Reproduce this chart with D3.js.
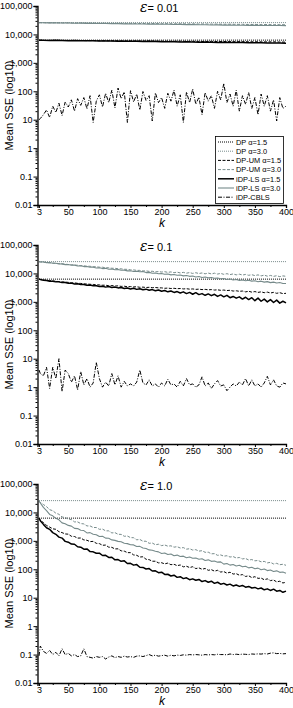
<!DOCTYPE html>
<html>
<head>
<meta charset="utf-8">
<script src="https://cdn.jsdelivr.net/npm/d3@7"></script>
<style>
  body { margin: 0; background: #fff; }
  text { font-family: "Liberation Sans", Arial, sans-serif; }
</style>
</head>
<body>
<svg id="chart" width="293" height="708"></svg>
<script>
// k positions
const K_ENDS = [3, 400];
const K10 = [3,10,20,30,40,50,60,70,80,90,100,110,120,130,140,150,160,170,180,190,200,
             210,220,230,240,250,260,270,280,290,300,310,320,330,340,350,360,370,380,390,400];
const K5 = [3,5,10,15,20,25,30,35,40,45,50,55,60,65,70,75,80,85,90,95,100,105,110,115,120,125,
            130,135,140,145,150,155,160,165,170,175,180,185,190,195,200,205,210,215,220,225,230,
            235,240,245,250,255,260,265,270,275,280,285,290,295,300,305,310,315,320,325,330,335,
            340,345,350,355,360,365,370,375,380,385,390,395,400];

const X_TICKS = [3,50,100,150,200,250,300,350,400];
const X_MINOR = [25,75,125,175,225,275,325,375];
const Y_TICKS = [0.01,0.1,1,10,100,1000,10000,100000];
const Y_LABELS = ["0.01","0.1","1","10","100","1,000","10,000","100,000"];
const EPSILONS = ["0.01","0.1","1.0"];

const LEGEND = ["DP \u03b1=1.5","DP \u03b1=3.0","DP-UM \u03b1=1.5","DP-UM \u03b1=3.0",
                "iDP-LS \u03b1=1.5","iDP-LS \u03b1=3.0","iDP-CBLS"];

// DP (flat)
const DP15 = [6300, 6300];
const DP30 = [26000, 26000];

// epsilon = 0.01 (on K10, CBLS on K5)
const p1_um15 = [6300,6250,6200,6230,6150,6180,6100,6120,6050,6080,6000,6020,5950,5980,5900,5930,5880,5850,5900,5800,
                 5830,5780,5750,5800,5700,5720,5680,5650,5700,5600,5630,5580,5550,5600,5500,5520,5480,5450,5500,5400,5350];
const p1_ls15 = [6300,6200,6150,6180,6100,6050,6080,6000,5950,5980,5900,5850,5880,5800,5750,5780,5700,5650,5700,5600,
                 5550,5580,5500,5450,5480,5400,5350,5380,5300,5250,5300,5200,5150,5200,5100,5050,5100,5000,4950,5000,4850];
const p1_um30 = [26000,25800,25600,25700,25400,25500,25200,25300,25000,25100,24800,24900,24600,24700,24400,24500,24200,24300,24000,24100,
                 23800,23900,23600,23700,23400,23500,23200,23300,23000,23100,22800,22900,22600,22700,22400,22500,22200,22300,22000,22100,21800];
const p1_ls30 = [26000,25600,25400,25500,25100,25200,24800,24900,24500,24600,24200,24300,23900,24000,23600,23700,23300,23400,23000,23100,
                 22700,22800,22400,22500,22100,22200,21800,21900,21500,21600,21200,21300,21000,21100,20800,20900,20600,20700,20500,20600,20400];
const p1_cbls = [10,11,15,22,12,30,18,38,14,42, 28,50,20,55,32,60,24,70,8,45,
                 75,28,85,40,110,26,130,55,95,8, 105,42,80,22,98,48,70,9,88,40,
                 60,25,85,45,110,30,75,8,95,40, 120,35,62,15,90,45,70,25,100,50,
                 190,40,80,30,110,20,70,35,90,25, 60,15,80,30,70,20,50,9,60,25, 30];

// epsilon = 0.1 (all on K5)
const p2_um15 = [6300,6150,5900,5700,5600,5450,5300,5150,5050,4950, 4850,4700,4650,4500,4450,4300,4250,4150,4100,3980,
                 3950,3850,3850,3700,3750,3600,3650,3500,3550,3400, 3450,3350,3400,3250,3300,3200,3250,3150,3200,3100,
                 3100,3000,3050,2950,3000,2900,2950,2850,2900,2800, 2850,2750,2800,2700,2750,2650,2700,2600,2650,2550,
                 2600,2500,2550,2400,2450,2350,2400,2250,2350,2200, 2300,2150,2250,2100,2200,2050,2150,2000,2100,1950, 2000];
const p2_ls15 = [6300,6150,5750,5650,5350,5350,5050,5050,4750,4800, 4500,4550,4250,4300,4050,4100,3850,3900,3650,3700,
                 3450,3550,3300,3450,3200,3300,3100,3200,2950,3050, 2850,3000,2750,2900,2650,2800,2550,2700,2450,2600,
                 2350,2500,2250,2400,2150,2300,2050,2250,1950,2150, 1850,2100,1800,1950,1700,1900,1650,1850,1550,1750,
                 1500,1700,1400,1550,1350,1500,1250,1450,1200,1400, 1100,1350,1050,1250,1000,1200,950,1150,900,1050, 920];
const p2_um30 = [26000,25600,25000,24200,23600,23200,22600,22200,21600,21200, 20600,20300,19600,19400,18800,18500,18000,17800,17300,17100,
                 16600,16500,15900,15800,15200,15200,14600,14500,14000,13900, 13400,13300,12800,12800,12200,12300,11800,11900,11400,11600,
                 11200,11500,10900,11300,10600,11100,10400,10900,10200,10700, 10000,10600,9900,10400,9700,10300,9600,10200,9500,10000,
                 9300,9800,9100,9600,8900,9400,8800,9200,8600,9000, 8400,8900,8200,8700,8000,8500,7900,8300,7700,8200, 7900];
const p2_ls30 = [26000,25300,25400,24000,24100,22700,22900,21500,21700,20400, 20600,19300,19600,18300,18600,17400,17500,16500,16600,15600,
                 15800,14800,15100,14100,14400,13500,13700,12900,13100,12300, 12500,11700,12000,11400,11600,10700,10900,10200,10400,9800,
                 9900,9300,9600,8900,9200,8600,8800,8200,8500,7900, 8100,7500,7800,7200,7500,7000,7200,6800,6900,6450,
                 6600,6150,6400,5900,6150,5700,5900,5500,5750,5350, 5550,5100,5350,4950,5150,4750,4950,4600,4800,4450, 4400];
const p2_cbls = [4,3,2.5,5,0.9,5,2,10,0.7,4, 3,1.5,2.5,0.8,3.5,1.2,2,1,1.4,7.5,
                 2,1,1.5,1.1,3,1.2,2.5,1,1.6,1.1, 1.3,1.1,1.5,4,1.4,1.2,1.8,1.1,1.3,1,
                 1.4,1.1,1.9,1.2,1.3,1,1.6,1.1,2,1.2, 1.3,1,1.2,2.3,1.1,1.4,0.9,1.3,1.7,1.1,
                 1.2,0.75,1,1.3,1.1,1.5,1.2,2,1.1,1.8, 1.1,1.3,1,1.4,2.4,1.2,1.8,1.1,1,1.4, 1.3];

// epsilon = 1.0 (all on K5)
const p3_um15 = [6300,5200,4400,3500,3050,2650,2550,2100,1950,1750, 1720,1450,1420,1250,1260,1080,1050,940,960,820,
                 800,700,710,600,590,520,525,445,435,385, 385,320,310,270,275,225,218,192,192,168,
                 170,155,165,145,150,134,142,122,128,115, 123,106,112,100,107,92,97,86,92,80,
                 83,73,79,68,70,62,65,56,59,51, 55,48,49,43,46,40,42,36,38,33, 35];
const p3_ls15 = [6300,5100,3800,2900,2550,1950,1700,1350,1250,960, 900,770,760,620,600,510,520,420,410,365,
                 370,305,310,260,265,215,220,190,198,160, 162,140,146,118,116,102,106,87,88,76,
                 79,66,67,58,62,52,55,47,50,43, 46,41,44,37,40,35,38,32,35,30,
                 32,28,30,26,28,25,27,23.5,25,22, 23,20.5,22,19,20.5,18,20,17,18,15.5, 17];
const p3_um30 = [25000,22500,19000,16000,12500,11500,9400,8600,6900,6700, 5800,5600,4650,4650,4050,3950,3350,3350,2950,2950,
                 2550,2600,2250,2250,1900,1950,1700,1690,1450,1480, 1300,1290,1090,1120,970,970,820,840,730,760,
                 680,715,650,670,600,625,560,580,510,530, 475,490,435,450,395,400,350,355,310,320,
                 290,300,270,280,250,260,232,240,212,220, 198,205,183,190,168,175,154,162,145,150, 138];
const p3_ls30 = [25000,21500,15000,11500,8500,7600,6200,5500,4300,4000, 3500,3300,2750,2700,2350,2300,1900,1950,1700,1650,
                 1420,1450,1250,1230,1080,1040,960,930,820,800, 730,720,630,640,560,540,480,470,430,410,
                 360,375,330,345,300,315,280,290,255,270, 245,250,225,235,205,215,190,195,178,182,
                 152,160,140,148,131,139,122,128,112,118, 104,110,96,102,90,94,84,88,78,80, 73];
const p3_cbls = [0.09,0.2,0.13,0.11,0.14,0.1,0.12,0.09,0.16,0.1, 0.11,0.09,0.1,0.085,0.09,0.16,0.085,0.08,0.075,0.085,
                 0.08,0.085,0.07,0.082,0.09,0.078,0.085,0.08,0.088,0.082, 0.085,0.08,0.088,0.09,0.085,0.092,0.1,0.09,0.095,0.088,
                 0.092,0.095,0.088,0.095,0.09,0.096,0.093,0.098,0.095,0.1, 0.097,0.1,0.098,0.095,0.1,0.097,0.1,0.098,0.102,0.1,
                 0.1,0.098,0.105,0.1,0.103,0.1,0.104,0.102,0.1,0.105, 0.103,0.106,0.104,0.108,0.105,0.112,0.115,0.108,0.11,0.106, 0.108];

const GRAY = "#768a8a";
const STYLES = [
  { color: "#000", dash: "1,1",         w: 1   },  // DP 1.5
  { color: GRAY,   dash: "1,1",         w: 1   },  // DP 3.0
  { color: "#000", dash: "3,1.5",       w: 1   },  // DP-UM 1.5
  { color: GRAY,   dash: "3,1.5",       w: 1   },  // DP-UM 3.0
  { color: "#000", dash: null,          w: 1.5 },  // iDP-LS 1.5
  { color: GRAY,   dash: null,          w: 1.1 },  // iDP-LS 3.0
  { color: "#000", dash: "4,1.5,1,1.5", w: 1   }   // iDP-CBLS
];

const zip = (ks, vs) => ks.map((k, i) => [k, vs[i]]);

const panels = [
  [zip(K_ENDS, DP15), zip(K_ENDS, DP30), zip(K10, p1_um15), zip(K10, p1_um30), zip(K10, p1_ls15), zip(K10, p1_ls30), zip(K5, p1_cbls)],
  [zip(K_ENDS, DP15), zip(K_ENDS, DP30), zip(K5, p2_um15), zip(K5, p2_um30), zip(K5, p2_ls15), zip(K5, p2_ls30), zip(K5, p2_cbls)],
  [zip(K_ENDS, DP15), zip(K_ENDS, DP30), zip(K5, p3_um15), zip(K5, p3_um30), zip(K5, p3_ls15), zip(K5, p3_ls30), zip(K5, p3_cbls)]
];

const svg = d3.select("#chart");
const panelH = 199;
const tops = [6, 245, 484];

const x = d3.scaleLinear().domain([0.5, 400]).range([37.5, 286]);

panels.forEach((series, pi) => {
  const top = tops[pi];
  const y = d3.scaleLog().domain([0.01, 100000]).range([top + panelH, top]);
  const g = svg.append("g");

  const line = d3.line().x(d => x(d[0])).y(d => y(d[1]));

  // draw order: DP first, grey ones, black ones, CBLS on top
  [0, 1, 3, 5, 2, 4, 6].forEach(si => {
    const st = STYLES[si];
    g.append("path")
      .datum(series[si])
      .attr("fill", "none")
      .attr("stroke", st.color)
      .attr("stroke-width", st.w)
      .attr("stroke-dasharray", st.dash)
      .attr("stroke-linejoin", "round")
      .attr("d", line);
  });

  // y axis with minor log ticks
  const minors = [];
  Y_TICKS.slice(0, -1).forEach(t => { for (let m = 2; m <= 9; m++) minors.push(t * m); });
  g.append("g")
    .attr("transform", `translate(${x.range()[0]},0)`)
    .call(d3.axisLeft(y).tickValues(minors).tickSize(2).tickFormat(""))
    .call(a => a.select(".domain").remove());
  const ya = g.append("g")
    .attr("transform", `translate(${x.range()[0]},0)`)
    .call(d3.axisLeft(y).tickValues(Y_TICKS).tickSize(4).tickPadding(1)
      .tickFormat((d, i) => Y_LABELS[i]));
  ya.selectAll("text").attr("font-size", 9).attr("font-family", "Liberation Sans, Arial, sans-serif");

  // x axis
  g.append("g")
    .attr("transform", `translate(0,${top + panelH})`)
    .call(d3.axisBottom(x).tickValues(X_MINOR).tickSize(2).tickFormat(""))
    .call(a => a.select(".domain").remove());
  const xa = g.append("g")
    .attr("transform", `translate(0,${top + panelH})`)
    .call(d3.axisBottom(x).tickValues(X_TICKS).tickSize(3).tickPadding(1));
  xa.selectAll("text").attr("font-size", 9).attr("font-family", "Liberation Sans, Arial, sans-serif");

  g.selectAll(".domain").attr("stroke-width", 1.3);

  // labels
  g.append("text")
    .attr("transform", `translate(13,${top + panelH / 2}) rotate(-90)`)
    .attr("text-anchor", "middle")
    .attr("font-size", 11)
    .text("Mean SSE (log10)");

  g.append("text")
    .attr("x", 162)
    .attr("y", top + panelH + 22)
    .attr("text-anchor", "middle")
    .attr("font-size", 12)
    .attr("font-style", "italic")
    .text("k");

  const title = g.append("text")
    .attr("x", 140)
    .attr("y", top + 6);
  title.append("tspan")
    .attr("font-size", 14)
    .attr("font-style", "italic")
    .attr("font-family", "DejaVu Serif, serif")
    .text("\u03b5");
  title.append("tspan")
    .attr("font-size", 11)
    .text("= " + EPSILONS[pi]);

  // legend in first panel
  if (pi === 0) {
    const lg = g.append("g");
    lg.append("rect")
      .attr("x", 215.5).attr("y", 136.5)
      .attr("width", 68).attr("height", 67)
      .attr("fill", "#fff").attr("stroke", "#000").attr("stroke-width", 0.8);
    LEGEND.forEach((name, i) => {
      const yy = 142 + i * 9.2;
      const st = STYLES[i];
      lg.append("line")
        .attr("x1", 218).attr("x2", 234)
        .attr("y1", yy).attr("y2", yy)
        .attr("stroke", st.color)
        .attr("stroke-width", st.w)
        .attr("stroke-dasharray", st.dash);
      lg.append("text")
        .attr("x", 236).attr("y", yy + 2.8)
        .attr("font-size", 7.4)
        .text(name);
    });
  }
});
</script>
</body>
</html>
